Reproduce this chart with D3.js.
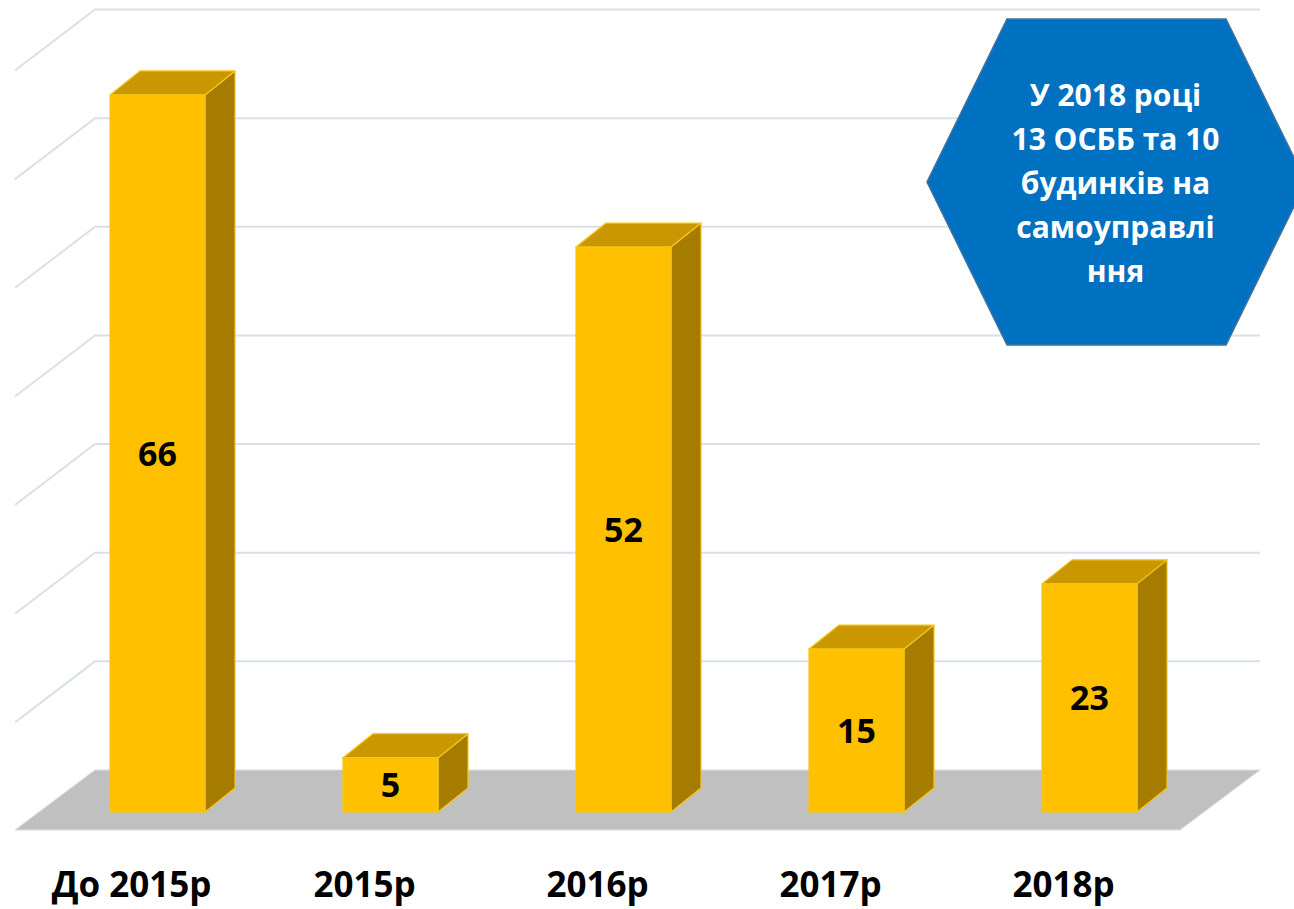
<!DOCTYPE html>
<html>
<head>
<meta charset="utf-8">
<script src="https://cdn.jsdelivr.net/npm/d3@7"></script>
<style>
  html, body { margin: 0; padding: 0; background: #fff; }
  svg { display: block; font-family: "Open Sans", "Noto Sans", sans-serif; }
</style>
</head>
<body>
<div id="chart"></div>
<script>
// --- DATA ---
const categories = ["До 2015р", "2015р", "2016р", "2017р", "2018р"];
const values = [66, 5, 52, 15, 21];          // bar heights as drawn
const valueLabels = ["66", "5", "52", "15", "23"]; // labels as printed
const gridValues = [10, 20, 30, 40, 50, 60, 70];
const noteLines = ["У 2018 році", "13 ОСББ та 10", "будинків на", "самоуправлі", "ння"];

// --- SETUP ---
const W = 1294, H = 909;
const svg = d3.select("#chart").append("svg").attr("width", W).attr("height", H);

// floor (front edge) and depth of the 3D box
const floorFront = 830, floorBack = 770;
const wallDx = 80, wallDy = -61;      // front -> back wall offset
const barDx = 30, barDy = -24;        // bar depth
const barShift = 26;                  // bar front face vs floor front
const barW = 95;
const barBase = 812;

const x = d3.scaleBand().domain(categories).range([15, 1180]);
const y = d3.scaleLinear().domain([0, 70]).range([barBase, barBase - 760.5]);
const backOffset = floorBack - barBase; // shift to back wall

// --- FLOOR ---
const x0 = x.range()[0], x1 = x.range()[1];
svg.append("polygon")
  .attr("points", [[x0, floorFront], [x0 + wallDx, floorBack], [x1 + wallDx, floorBack], [x1, floorFront]].join(" "))
  .attr("fill", "#c0c0c0")
  .attr("stroke", "#d6dde8")
  .attr("stroke-width", 1);

// --- GRIDLINES (back wall + side wall) ---
const grid = svg.append("g").attr("fill", "none").attr("stroke", "#d8e0ea").attr("stroke-width", 2);
grid.selectAll("polyline").data(gridValues).enter().append("polyline")
  .attr("points", d => {
    const yb = y(d) + backOffset;
    return [[x0, yb - wallDy], [x0 + wallDx, yb], [x1 + wallDx, yb]].join(" ");
  });

// --- BARS ---
const bars = svg.append("g").selectAll("g").data(values).enter().append("g");
const left = (d, i) => x(categories[i]) + x.bandwidth() / 2 + barShift - barW / 2;

bars.append("polygon") // side
  .attr("points", (d, i) => {
    const l = left(d, i) + barW, t = y(d);
    return [[l, barBase], [l, t], [l + barDx, t + barDy], [l + barDx, barBase + barDy]].join(" ");
  })
  .attr("fill", "#a67c00").attr("stroke", "#f5c518").attr("stroke-width", 1.2).attr("stroke-linejoin", "round");

bars.append("polygon") // top
  .attr("points", (d, i) => {
    const l = left(d, i), t = y(d);
    return [[l, t], [l + barDx, t + barDy], [l + barW + barDx, t + barDy], [l + barW, t]].join(" ");
  })
  .attr("fill", "#c99700").attr("stroke", "#f5c518").attr("stroke-width", 1.2).attr("stroke-linejoin", "round");

bars.append("rect") // front
  .attr("x", (d, i) => left(d, i))
  .attr("y", d => y(d))
  .attr("width", barW)
  .attr("height", d => barBase - y(d))
  .attr("fill", "#ffc000").attr("stroke", "#f5c518").attr("stroke-width", 1.2);

bars.append("text")
  .attr("x", (d, i) => left(d, i) + barW / 2)
  .attr("y", d => (y(d) + barBase) / 2)
  .attr("dy", "0.36em")
  .attr("text-anchor", "middle")
  .attr("font-size", 34).attr("font-weight", 700).attr("fill", "#000")
  .text((d, i) => valueLabels[i]);

// --- CATEGORY LABELS ---
svg.append("g").selectAll("text").data(categories).enter().append("text")
  .attr("x", d => x(d) + x.bandwidth() / 2)
  .attr("y", 897)
  .attr("text-anchor", "middle")
  .attr("font-size", 35).attr("font-weight", 700).attr("fill", "#000")
  .text(d => d);

// --- HEXAGON NOTE ---
const hx = 1116.5, hy = 182, hw = 189.5, hh = 163, hs = 109.5;
svg.append("polygon")
  .attr("points", [[hx - hs, hy - hh], [hx + hs, hy - hh], [hx + hw, hy], [hx + hs, hy + hh], [hx - hs, hy + hh], [hx - hw, hy]].join(" "))
  .attr("fill", "#0070c0").attr("stroke", "#41719c").attr("stroke-width", 1.5);

svg.append("g").selectAll("text").data(noteLines).enter().append("text")
  .attr("x", hx - 1)
  .attr("y", (d, i) => 106 + i * 44)
  .attr("text-anchor", "middle")
  .attr("font-size", 30).attr("font-weight", 700).attr("fill", "#fff")
  .text(d => d);
</script>
</body>
</html>
